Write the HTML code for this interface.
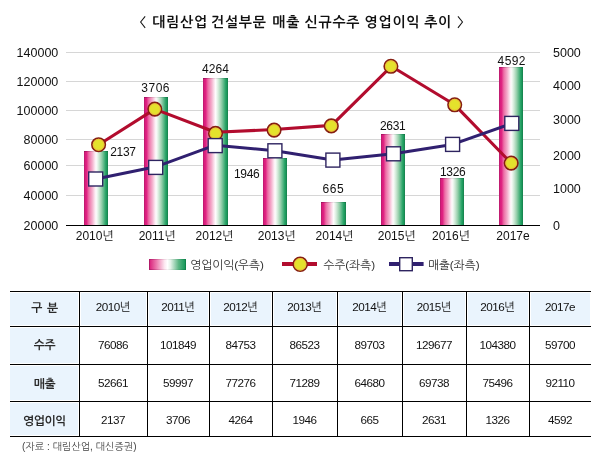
<!DOCTYPE html>
<html lang="ko">
<head>
<meta charset="utf-8">
<style>
html,body{margin:0;padding:0;background:#fff;}
body{width:600px;height:460px;position:relative;overflow:hidden;font-family:"Liberation Sans","NanumGothic",sans-serif;color:#111;}
.title{position:absolute;left:0;top:12px;width:600px;height:20px;font-size:14px;font-weight:bold;line-height:20px;color:#111;white-space:pre;letter-spacing:0.75px;}
.title span{position:absolute;top:0;}
svg{position:absolute;left:0;top:0;}
svg text{font-family:"Liberation Sans","NanumGothic",sans-serif;}
.tbl{position:absolute;left:0;top:0;}
.c{position:absolute;text-align:center;font-size:11.7px;color:#111;white-space:nowrap;letter-spacing:-0.5px;}
.b{font-weight:bold;font-size:11.8px;letter-spacing:-0.4px;margin-top:0.8px;color:#2a2a2a;}
.b2{word-spacing:2px;}
.src{position:absolute;left:22px;top:440px;font-size:10px;color:#444;white-space:nowrap;}
</style>
</head>
<body>
<div class="title"><span style="left:139.6px">〈</span><span style="left:152.2px">대림산업</span><span style="left:211.0px">건설부문</span><span style="left:272.3px">매출</span><span style="left:304.6px">신규수주</span><span style="left:364.6px">영업이익</span><span style="left:424.2px">추이</span><span style="left:457.0px">〉</span></div>

<svg width="600" height="290" viewBox="0 0 600 290">
<defs>
<linearGradient id="bar" x1="0" y1="0" x2="1" y2="0">
<stop offset="0" stop-color="#b01a68"/>
<stop offset="0.05" stop-color="#d81c7c"/>
<stop offset="0.11" stop-color="#e02482"/>
<stop offset="0.2" stop-color="#ec6ea6"/>
<stop offset="0.34" stop-color="#f4accb"/>
<stop offset="0.44" stop-color="#fbe0ec"/>
<stop offset="0.5" stop-color="#fffafc"/>
<stop offset="0.55" stop-color="#eef7f0"/>
<stop offset="0.63" stop-color="#cce7d4"/>
<stop offset="0.73" stop-color="#98d0ad"/>
<stop offset="0.83" stop-color="#58b685"/>
<stop offset="0.9" stop-color="#2aa468"/>
<stop offset="0.95" stop-color="#1a985a"/>
<stop offset="1" stop-color="#177a4a"/>
</linearGradient>
<linearGradient id="barTop" x1="0" y1="0" x2="1" y2="0">
<stop offset="0" stop-color="#801050"/>
<stop offset="0.1" stop-color="#a81462"/>
<stop offset="0.3" stop-color="#d07aa0"/>
<stop offset="0.5" stop-color="#e6dde2"/>
<stop offset="0.7" stop-color="#88c0a0"/>
<stop offset="0.9" stop-color="#1a8a54"/>
<stop offset="1" stop-color="#0e6a3c"/>
</linearGradient>
<linearGradient id="sw" x1="0" y1="0" x2="1" y2="0">
<stop offset="0" stop-color="#d81b78"/>
<stop offset="0.2" stop-color="#ec7aae"/>
<stop offset="0.42" stop-color="#fde8f1"/>
<stop offset="0.5" stop-color="#ffffff"/>
<stop offset="0.58" stop-color="#e6f3ea"/>
<stop offset="0.8" stop-color="#5cb684"/>
<stop offset="1" stop-color="#0d9555"/>
</linearGradient>
</defs>
<!-- grid -->
<g stroke="#d6d6d6" stroke-width="1">
<line x1="66" y1="52.5" x2="540" y2="52.5"/>
<line x1="66" y1="81.5" x2="540" y2="81.5"/>
<line x1="66" y1="110.5" x2="540" y2="110.5"/>
<line x1="66" y1="139.5" x2="540" y2="139.5"/>
<line x1="66" y1="165.5" x2="540" y2="165.5"/>
<line x1="66" y1="195.5" x2="540" y2="195.5"/>
</g>
<!-- left axis labels -->
<g font-size="12.5" fill="#111" text-anchor="end">
<text x="58.3" y="57.2">140000</text>
<text x="58.3" y="86.2">120000</text>
<text x="58.3" y="115.2">100000</text>
<text x="58.3" y="144.2">80000</text>
<text x="58.3" y="170.2">60000</text>
<text x="58.3" y="200.2">40000</text>
<text x="58.3" y="230.2">20000</text>
</g>
<!-- right axis labels -->
<g font-size="12.5" fill="#111">
<text x="553" y="57">5000</text>
<text x="553" y="90">4000</text>
<text x="553" y="124">3000</text>
<text x="553" y="160">2000</text>
<text x="553" y="193">1000</text>
<text x="553" y="230">0</text>
</g>
<!-- bars -->
<g fill="url(#bar)">
<rect x="84" y="151" width="24" height="74"/>
<rect x="144" y="97" width="24" height="128"/>
<rect x="203" y="78" width="25" height="147"/>
<rect x="263" y="158" width="24" height="67"/>
<rect x="321" y="202" width="25" height="23"/>
<rect x="381" y="134" width="24" height="91"/>
<rect x="440" y="178" width="24" height="47"/>
<rect x="499" y="67" width="24" height="158"/>
</g>
<g fill="url(#barTop)" fill-opacity="0.7">
<rect x="84" y="151" width="24" height="1"/>
<rect x="144" y="97" width="24" height="1"/>
<rect x="203" y="78" width="25" height="1"/>
<rect x="263" y="158" width="24" height="1"/>
<rect x="321" y="202" width="25" height="1"/>
<rect x="381" y="134" width="24" height="1"/>
<rect x="440" y="178" width="24" height="1"/>
<rect x="499" y="67" width="24" height="1"/>
</g>
<!-- baseline -->
<line x1="66" y1="225.5" x2="540" y2="225.5" stroke="#000" stroke-width="1.2"/>
<!-- bar value labels -->
<g font-size="12" fill="#111">
<text x="110.2" y="156.3" letter-spacing="-0.3">2137</text>
<text x="141.3" y="92.3" letter-spacing="0.5">3706</text>
<text x="202" y="73.3" letter-spacing="0.1">4264</text>
<text x="234" y="178" letter-spacing="-0.3">1946</text>
<text x="322.4" y="193.4" letter-spacing="0.6">665</text>
<text x="380" y="130.3" letter-spacing="-0.3">2631</text>
<text x="440" y="176.2" letter-spacing="-0.3">1326</text>
<text x="497.6" y="65" letter-spacing="0.4">4592</text>
</g>
<!-- red line -->
<polyline fill="none" stroke="#b20c2e" stroke-width="3.1" stroke-linejoin="round"
 points="98.6,144.7 154.8,109.1 215.5,132.3 274.1,129.5 331.6,125.4 391.3,66.3 454.7,104.8 511.2,163.1"/>
<g fill="#e4e22c" stroke="#861e12" stroke-width="1.6">
<circle cx="98.6" cy="144.7" r="6.75"/>
<circle cx="154.8" cy="109.1" r="6.75"/>
<circle cx="215.5" cy="133.4" r="6.75"/>
<circle cx="274.1" cy="130.1" r="6.75"/>
<circle cx="331.3" cy="125.9" r="6.75"/>
<circle cx="390.9" cy="66.3" r="6.75"/>
<circle cx="454.7" cy="104.8" r="6.75"/>
<circle cx="511.2" cy="163.1" r="6.75"/>
</g>
<g fill="none" stroke="#f0b040" stroke-width="0.9" stroke-opacity="0.8">
<circle cx="98.6" cy="144.7" r="5.4"/>
<circle cx="154.8" cy="109.1" r="5.4"/>
<circle cx="215.5" cy="133.4" r="5.4"/>
<circle cx="274.1" cy="130.1" r="5.4"/>
<circle cx="331.3" cy="125.9" r="5.4"/>
<circle cx="390.9" cy="66.3" r="5.4"/>
<circle cx="454.7" cy="104.8" r="5.4"/>
<circle cx="511.2" cy="163.1" r="5.4"/>
</g>
<!-- blue line -->
<polyline fill="none" stroke="#302070" stroke-width="3" stroke-linejoin="round"
 points="95.7,179 155.7,166.8 215.2,145.2 274.9,150.8 332.9,160.1 393.5,153.8 452.6,144.4 511.8,123.4"/>
<g fill="#fff" stroke="#2e2460" stroke-width="1.4">
<rect x="88.7" y="172" width="14" height="14"/>
<rect x="148.7" y="160.4" width="14" height="14"/>
<rect x="208.2" y="138.6" width="14" height="14"/>
<rect x="267.9" y="143.8" width="14" height="14"/>
<rect x="325.9" y="153.1" width="14" height="14"/>
<rect x="386.5" y="146.8" width="14" height="14"/>
<rect x="445.6" y="137.4" width="14" height="14"/>
<rect x="504.8" y="116.4" width="14" height="14"/>
</g>
<!-- x labels -->
<g font-size="12" fill="#111" text-anchor="middle">
<text x="94.75" y="240.3">2010년</text>
<text x="157.20" y="240.3">2011년</text>
<text x="214.60" y="240.3">2012년</text>
<text x="276.75" y="240.3">2013년</text>
<text x="334.60" y="240.3">2014년</text>
<text x="396.75" y="240.3">2015년</text>
<text x="451.00" y="240.3">2016년</text>
<text x="513.00" y="240.3">2017e</text>
</g>
<!-- legend -->
<rect x="149" y="259" width="37" height="11" fill="url(#sw)"/>
<rect x="149.5" y="259.5" width="36" height="10" fill="none" stroke="url(#barTop)" stroke-opacity="0.45" stroke-width="1"/>
<text x="190.2" y="269.1" font-size="11.7" fill="#333">영업이익(우측)</text>
<line x1="282" y1="264" x2="317" y2="264" stroke="#b20c2e" stroke-width="4"/>
<circle cx="300.2" cy="264.3" r="7" fill="#e4e22c" stroke="#861e12" stroke-width="1.6"/>
<circle cx="300.2" cy="264.3" r="5.8" fill="none" stroke="#f0b040" stroke-width="0.9" stroke-opacity="0.8"/>
<text x="323.4" y="269.1" font-size="11.7" fill="#333">수주(좌측)</text>
<line x1="389" y1="264" x2="423.6" y2="264" stroke="#302070" stroke-width="4"/>
<rect x="399.7" y="257.7" width="12.6" height="13" fill="#fff" stroke="#2e2460" stroke-width="1.4"/>
<text x="427.9" y="269.1" font-size="11.7" fill="#333">매출(좌측)</text>
</svg>

<!-- table -->
<div class="tbl">
<div style="position:absolute;left:10px;top:293px;width:68px;height:32px;background:#eaf4fd"></div>
<div style="position:absolute;left:81px;top:293px;width:65px;height:32px;background:#eaf4fd"></div>
<div style="position:absolute;left:149px;top:293px;width:59px;height:32px;background:#eaf4fd"></div>
<div style="position:absolute;left:211px;top:293px;width:60px;height:32px;background:#eaf4fd"></div>
<div style="position:absolute;left:274px;top:293px;width:62px;height:32px;background:#eaf4fd"></div>
<div style="position:absolute;left:339px;top:293px;width:62px;height:32px;background:#eaf4fd"></div>
<div style="position:absolute;left:404px;top:293px;width:61px;height:32px;background:#eaf4fd"></div>
<div style="position:absolute;left:468px;top:293px;width:60px;height:32px;background:#eaf4fd"></div>
<div style="position:absolute;left:531px;top:293px;width:59px;height:32px;background:#eaf4fd"></div>
<div style="position:absolute;left:10px;top:328px;width:68px;height:35px;background:#eaf4fd"></div>
<div style="position:absolute;left:10px;top:366px;width:68px;height:34px;background:#eaf4fd"></div>
<div style="position:absolute;left:10px;top:403px;width:68px;height:32px;background:#eaf4fd"></div>
<div style="position:absolute;left:10px;top:291px;width:581px;height:1px;background:#000"></div>
<div style="position:absolute;left:10px;top:326px;width:581px;height:1px;background:#000"></div>
<div style="position:absolute;left:10px;top:364px;width:581px;height:1px;background:#000"></div>
<div style="position:absolute;left:10px;top:401px;width:581px;height:1px;background:#000"></div>
<div style="position:absolute;left:10px;top:436px;width:581px;height:1px;background:#000"></div>
<div style="position:absolute;left:79px;top:291px;width:1px;height:146px;background:#000"></div>
<div style="position:absolute;left:147px;top:291px;width:1px;height:146px;background:#000"></div>
<div style="position:absolute;left:209px;top:291px;width:1px;height:146px;background:#000"></div>
<div style="position:absolute;left:272px;top:291px;width:1px;height:146px;background:#000"></div>
<div style="position:absolute;left:337px;top:291px;width:1px;height:146px;background:#000"></div>
<div style="position:absolute;left:402px;top:291px;width:1px;height:146px;background:#000"></div>
<div style="position:absolute;left:466px;top:291px;width:1px;height:146px;background:#000"></div>
<div style="position:absolute;left:529px;top:291px;width:1px;height:146px;background:#000"></div>
<div class="c b b2" style="left:10px;top:296.9px;width:69px;height:20px;line-height:20px">구 분</div>
<div class="c" style="left:79px;top:296.9px;width:68px;height:20px;line-height:20px">2010년</div>
<div class="c" style="left:147px;top:296.9px;width:62px;height:20px;line-height:20px">2011년</div>
<div class="c" style="left:209px;top:296.9px;width:63px;height:20px;line-height:20px">2012년</div>
<div class="c" style="left:272px;top:296.9px;width:65px;height:20px;line-height:20px">2013년</div>
<div class="c" style="left:337px;top:296.9px;width:65px;height:20px;line-height:20px">2014년</div>
<div class="c" style="left:402px;top:296.9px;width:64px;height:20px;line-height:20px">2015년</div>
<div class="c" style="left:466px;top:296.9px;width:63px;height:20px;line-height:20px">2016년</div>
<div class="c" style="left:529px;top:296.9px;width:62px;height:20px;line-height:20px">2017e</div>
<div class="c b" style="left:10px;top:334.6px;width:69px;height:20px;line-height:20px">수주</div>
<div class="c" style="left:79px;top:334.6px;width:68px;height:20px;line-height:20px">76086</div>
<div class="c" style="left:147px;top:334.6px;width:62px;height:20px;line-height:20px">101849</div>
<div class="c" style="left:209px;top:334.6px;width:63px;height:20px;line-height:20px">84753</div>
<div class="c" style="left:272px;top:334.6px;width:65px;height:20px;line-height:20px">86523</div>
<div class="c" style="left:337px;top:334.6px;width:65px;height:20px;line-height:20px">89703</div>
<div class="c" style="left:402px;top:334.6px;width:64px;height:20px;line-height:20px">129677</div>
<div class="c" style="left:466px;top:334.6px;width:63px;height:20px;line-height:20px">104380</div>
<div class="c" style="left:529px;top:334.6px;width:62px;height:20px;line-height:20px">59700</div>
<div class="c b" style="left:10px;top:373.0px;width:69px;height:20px;line-height:20px">매출</div>
<div class="c" style="left:79px;top:373.0px;width:68px;height:20px;line-height:20px">52661</div>
<div class="c" style="left:147px;top:373.0px;width:62px;height:20px;line-height:20px">59997</div>
<div class="c" style="left:209px;top:373.0px;width:63px;height:20px;line-height:20px">77276</div>
<div class="c" style="left:272px;top:373.0px;width:65px;height:20px;line-height:20px">71289</div>
<div class="c" style="left:337px;top:373.0px;width:65px;height:20px;line-height:20px">64680</div>
<div class="c" style="left:402px;top:373.0px;width:64px;height:20px;line-height:20px">69738</div>
<div class="c" style="left:466px;top:373.0px;width:63px;height:20px;line-height:20px">75496</div>
<div class="c" style="left:529px;top:373.0px;width:62px;height:20px;line-height:20px">92110</div>
<div class="c b" style="left:10px;top:409.9px;width:69px;height:20px;line-height:20px">영업이익</div>
<div class="c" style="left:79px;top:409.9px;width:68px;height:20px;line-height:20px">2137</div>
<div class="c" style="left:147px;top:409.9px;width:62px;height:20px;line-height:20px">3706</div>
<div class="c" style="left:209px;top:409.9px;width:63px;height:20px;line-height:20px">4264</div>
<div class="c" style="left:272px;top:409.9px;width:65px;height:20px;line-height:20px">1946</div>
<div class="c" style="left:337px;top:409.9px;width:65px;height:20px;line-height:20px">665</div>
<div class="c" style="left:402px;top:409.9px;width:64px;height:20px;line-height:20px">2631</div>
<div class="c" style="left:466px;top:409.9px;width:63px;height:20px;line-height:20px">1326</div>
<div class="c" style="left:529px;top:409.9px;width:62px;height:20px;line-height:20px">4592</div>
</div>
<div class="src">(자료 : 대림산업, 대신증권)</div>
</body>
</html>
